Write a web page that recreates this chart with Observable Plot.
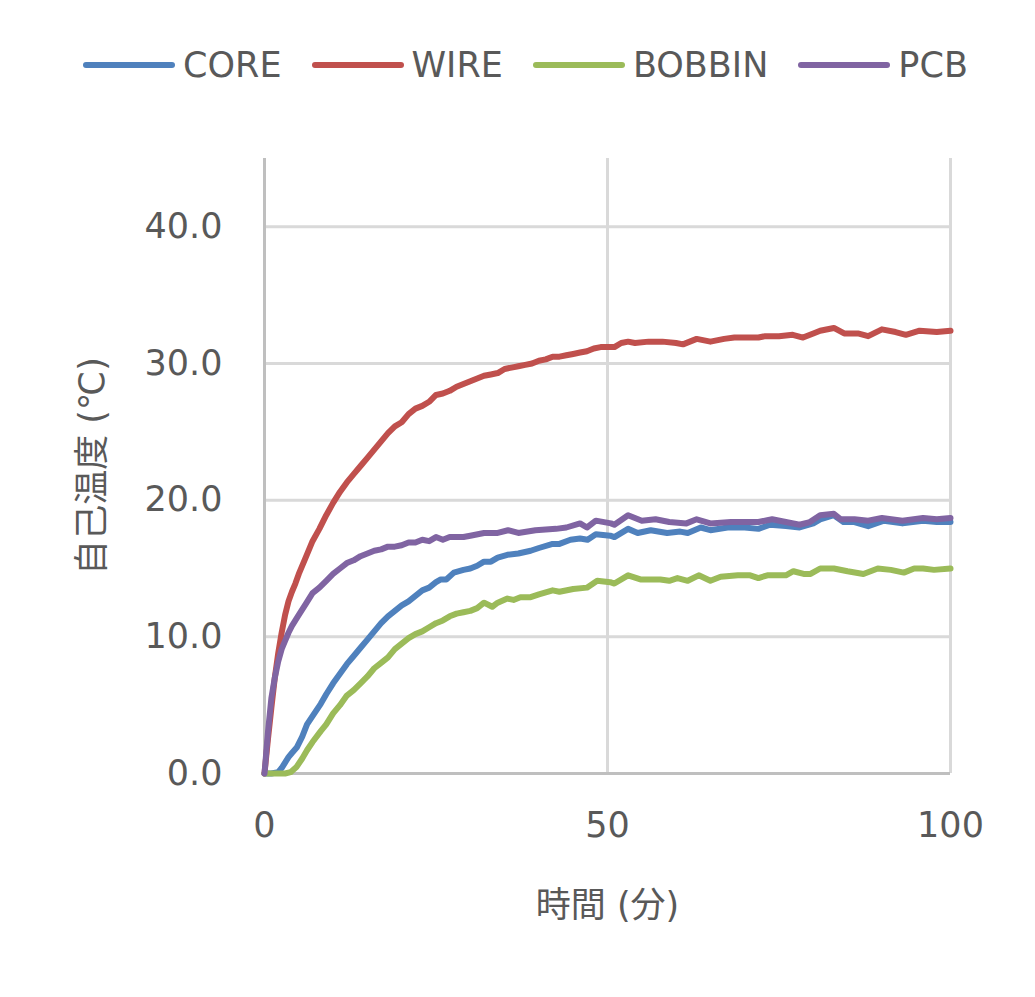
<!DOCTYPE html>
<html>
<head>
<meta charset="utf-8">
<script src="https://cdn.jsdelivr.net/npm/d3@7"></script>
<script src="https://cdn.jsdelivr.net/npm/@observablehq/plot@0.6"></script>
<style>
  body { margin: 0; background: white; }
  #legend { height: 130px; display: flex; justify-content: center; align-items: center;
            padding-left: 16px; box-sizing: border-box;
            font-family: 'DejaVu Sans', 'Noto Sans CJK JP', sans-serif; font-size: 35px; color: #595959; }
  .item { display: flex; align-items: center; margin-right: 30px; }
  .item:last-child { margin-right: 0; }
  .item svg { margin-right: 8px; }
</style>
</head>
<body>
<div id="legend"></div>
<div id="chart"></div>
<script>
const seriesNames = ["CORE", "WIRE", "BOBBIN", "PCB"];
const seriesColors = ["#4f81bd", "#c0504d", "#9bbb59", "#8064a2"];
const xTicks = [0, 50, 100];
const yTicks = [0, 10, 20, 30, 40];
const xLabel = "時間 (分)";
const yLabel = "自己温度 (℃)";

// [minutes, °C]
const core = [[0,0],[1,0],[2,0.1],[2.5,0.4],[3,0.8],[3.5,1.2],[4,1.5],[4.7,1.9],[5.5,2.7],[6.2,3.6],[7,4.2],[8.2,5.1],[9,5.8],[10,6.6],[11,7.3],[12,8.0],[13,8.6],[14,9.2],[15,9.8],[16,10.4],[17,11.0],[18,11.5],[19,11.9],[20,12.3],[21,12.6],[22,13.0],[23,13.4],[24,13.6],[25,14.0],[25.7,14.2],[26.5,14.2],[27.6,14.7],[29,14.9],[30,15.0],[31,15.2],[32,15.5],[33,15.5],[34,15.8],[35.4,16.0],[37,16.1],[38.8,16.3],[40,16.5],[42,16.8],[43,16.8],[44.6,17.1],[46,17.2],[47.1,17.1],[48.3,17.5],[50.4,17.4],[51,17.3],[53,17.9],[54.4,17.6],[56.3,17.8],[58.7,17.6],[60.6,17.7],[61.7,17.6],[63.6,18.0],[65,17.8],[67.5,18.0],[70,18.0],[72,17.9],[73.7,18.2],[76,18.1],[78,18.0],[80,18.3],[81,18.6],[83,18.9],[84.4,18.4],[86,18.4],[88,18.1],[90.3,18.5],[93,18.3],[96,18.5],[98,18.4],[100,18.4]];
const wire = [[0,0],[0.5,2.5],[1,4.8],[1.5,7.0],[2,8.8],[2.5,10.3],[3,11.6],[3.5,12.6],[4,13.3],[4.5,13.9],[5,14.6],[6,15.8],[7,17.0],[8,17.9],[9,18.9],[10,19.8],[11,20.6],[12,21.3],[13,21.9],[14,22.5],[15,23.1],[16,23.7],[17,24.3],[18,24.9],[19,25.4],[20,25.7],[21,26.3],[22,26.7],[23,26.9],[24,27.2],[25,27.7],[26,27.8],[27,28.0],[28,28.3],[29,28.5],[30,28.7],[31,28.9],[32,29.1],[33,29.2],[34,29.3],[35,29.6],[36,29.7],[37,29.8],[38,29.9],[39,30.0],[40,30.2],[41,30.3],[42,30.5],[43,30.5],[44,30.6],[45,30.7],[46,30.8],[47,30.9],[48,31.1],[49,31.2],[50,31.2],[51,31.2],[52,31.5],[53,31.6],[54,31.5],[56,31.6],[58,31.6],[60,31.5],[61,31.4],[63,31.8],[65,31.6],[67,31.8],[68.5,31.9],[70,31.9],[72,31.9],[73,32.0],[75,32.0],[77,32.1],[78.5,31.9],[80,32.2],[81,32.4],[83,32.6],[84.5,32.2],[86.5,32.2],[88,32.0],[90,32.5],[92,32.3],[93.5,32.1],[95.5,32.4],[98,32.3],[100,32.4]];
const bobbin = [[0,0],[1,0],[2,0],[3,0],[3.8,0.1],[4.7,0.5],[5.5,1.1],[6.2,1.7],[7,2.3],[8.2,3.1],[9,3.6],[10,4.4],[11,5.0],[12,5.7],[13,6.1],[14,6.6],[15,7.1],[16,7.7],[17,8.1],[18,8.5],[19,9.1],[20,9.5],[21,9.9],[22,10.2],[23,10.4],[24,10.7],[25,11.0],[26,11.2],[27,11.5],[28,11.7],[29,11.8],[30,11.9],[31,12.1],[32,12.5],[33.2,12.2],[34,12.5],[35.4,12.8],[36.3,12.7],[37.3,12.9],[38.8,12.9],[40,13.1],[42,13.4],[43,13.3],[45,13.5],[47,13.6],[48.5,14.1],[50.4,14.0],[51,13.9],[53,14.5],[54.8,14.2],[57.7,14.2],[59,14.1],[60.2,14.3],[61.7,14.1],[63.3,14.5],[65,14.1],[66.5,14.4],[69,14.5],[70.8,14.5],[72,14.3],[73.3,14.5],[76,14.5],[77.1,14.8],[78.6,14.6],[79.6,14.6],[81,15.0],[83,15.0],[85,14.8],[87.3,14.6],[89.4,15.0],[91.3,14.9],[93.2,14.7],[94.7,15.0],[96,15.0],[97.6,14.9],[100,15.0]];
const pcb = [[0,0],[0.5,3.0],[1,5.5],[1.5,7.0],[2,8.2],[2.5,9.1],[3,9.7],[3.5,10.3],[4,10.8],[4.5,11.2],[5,11.6],[6,12.4],[7,13.2],[8,13.6],[9,14.1],[10,14.6],[11,15.0],[12,15.4],[13,15.6],[14,15.9],[15,16.1],[16,16.3],[17,16.4],[18,16.6],[19,16.6],[20,16.7],[21,16.9],[22,16.9],[23,17.1],[24,17.0],[25,17.3],[26,17.1],[27,17.3],[28,17.3],[29,17.3],[30,17.4],[32,17.6],[34,17.6],[35.5,17.8],[37,17.6],[39.5,17.8],[42.5,17.9],[44,18.0],[46,18.3],[47,18.0],[48.3,18.5],[50.5,18.3],[51,18.2],[53,18.9],[55,18.5],[57,18.6],[59,18.4],[61.5,18.3],[63,18.6],[65,18.3],[68,18.4],[72,18.4],[74,18.6],[76,18.4],[78,18.2],[79.5,18.4],[81,18.9],[83,19.0],[84,18.6],[86,18.6],[88,18.5],[90,18.7],[93,18.5],[96,18.7],[98,18.6],[100,18.7]];

const seriesData = [core, wire, bobbin, pcb];

// Legend (HTML above the SVG)
const legend = d3.select("#legend");
seriesNames.forEach((name, i) => {
  const item = legend.append("div").attr("class", "item");
  const sw = item.append("svg").attr("width", 92).attr("height", 12);
  sw.append("line").attr("x1", 3).attr("x2", 89).attr("y1", 6).attr("y2", 6)
    .attr("stroke", seriesColors[i]).attr("stroke-width", 6).attr("stroke-linecap", "round");
  item.append("span").text(name);
});

const font = "'DejaVu Sans', 'Noto Sans CJK JP', sans-serif";
const gridStyle = {stroke: "#d9d9d9", strokeOpacity: 1, strokeWidth: 3};

const chart = Plot.plot({
  width: 1035,
  height: 867,
  marginTop: 28,
  marginLeft: 264,
  marginRight: 85,
  marginBottom: 224,
  x: {domain: [0, 100]},
  y: {domain: [0, 45]},
  style: {fontFamily: font, fontSize: "35px", color: "#595959", background: "white"},
  marks: [
    Plot.gridY(yTicks.filter(d => d > 0), gridStyle),
    Plot.gridX(xTicks.filter(d => d > 0), gridStyle),
    Plot.ruleX([0], {stroke: "#bfbfbf", strokeWidth: 3}),
    Plot.ruleY([0], {stroke: "#bfbfbf", strokeWidth: 3}),
    Plot.axisY({ticks: yTicks, tickFormat: d => d.toFixed(1), tickSize: 0, tickPadding: 42, label: null, fontSize: 35}),
    Plot.axisX({ticks: xTicks, tickFormat: d => String(d), tickSize: 0, tickPadding: 39, label: null, fontSize: 35}),
    ...seriesData.map((data, i) => Plot.line(data, {
      x: d => d[0], y: d => d[1],
      stroke: seriesColors[i], strokeWidth: 6,
      strokeLinejoin: "round", strokeLinecap: "round"
    })),
    Plot.text([xLabel], {text: d => d, frameAnchor: "bottom", dy: 132, textAnchor: "middle", lineAnchor: "middle", fontSize: 35, fill: "#595959"}),
    Plot.text([yLabel], {text: d => d, frameAnchor: "left", dx: -172, rotate: -90, textAnchor: "middle", lineAnchor: "middle", fontSize: 35, fill: "#595959"})
  ]
});
document.getElementById("chart").appendChild(chart);
</script>
</body>
</html>
